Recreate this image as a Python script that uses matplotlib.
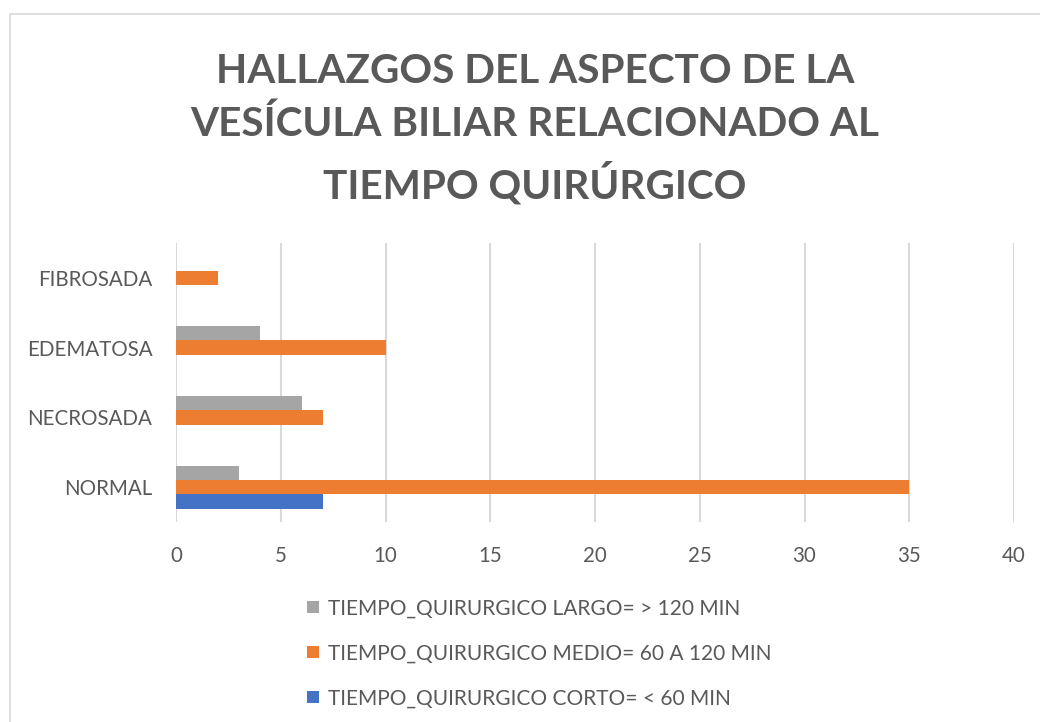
import matplotlib.pyplot as plt
from matplotlib.patches import Rectangle
import numpy as np

# datos
categorias = ['NORMAL', 'NECROSADA', 'EDEMATOSA', 'FIBROSADA']
corto = [7, 0, 0, 0]
medio = [35, 7, 10, 2]
largo = [3, 6, 4, 0]
etiquetas = ['TIEMPO_QUIRURGICO CORTO= < 60 MIN',
             'TIEMPO_QUIRURGICO MEDIO= 60 A 120 MIN',
             'TIEMPO_QUIRURGICO LARGO= > 120 MIN']
titulo = 'HALLAZGOS DEL ASPECTO DE LA\nVESÍCULA BILIAR RELACIONADO AL\nTIEMPO QUIRÚRGICO'

plt.rcParams['font.family'] = ['Lato', 'DejaVu Sans']
gris = '#595959'

fig = plt.figure(figsize=(10.4, 7.22), dpi=100)
fig.patches.append(Rectangle((10 / 1040, -0.1), 1.2, 1 - 14 / 722 + 0.1,
                             transform=fig.transFigure, fill=False,
                             edgecolor='#d9d9d9', linewidth=1.2))

ax = fig.add_axes([176 / 1040, 200 / 722, 838 / 1040, 279 / 722])
y = np.arange(len(categorias))
h = 0.205
b1 = ax.barh(y - h, corto, height=h, color='#4472c4', label=etiquetas[0])
b2 = ax.barh(y, medio, height=h, color='#ed7d31', label=etiquetas[1])
b3 = ax.barh(y + h, largo, height=h, color='#a5a5a5', label=etiquetas[2])

ax.set_xlim(0, 40)
ax.set_ylim(-0.5, 3.5)
ax.set_xticks(np.arange(0, 41, 5))
ax.set_yticks(y)
ax.set_yticklabels(categorias)
ax.tick_params(length=0, labelsize=14.8, colors=gris)
ax.tick_params(axis='y', pad=17)
ax.tick_params(axis='x', pad=17)
ax.grid(axis='x', color='#d9d9d9', linewidth=1.5)
ax.set_axisbelow(True)
for s in ax.spines.values():
    s.set_visible(False)

fig.text(535 / 1040, 1 - 129 / 722, titulo, ha='center', va='center',
         fontsize=29.2, fontweight='bold', color=gris, linespacing=1.52)

fig.legend([b3, b2, b1], [etiquetas[2], etiquetas[1], etiquetas[0]],
           loc='upper left', bbox_to_anchor=(299 / 1040, 1 - 590 / 722),
           frameon=False, fontsize=15, labelcolor=gris,
           handlelength=0.55, handleheight=0.55, handletextpad=0.45,
           labelspacing=1.2, borderaxespad=0)

fig.savefig('out.png', dpi=100)
